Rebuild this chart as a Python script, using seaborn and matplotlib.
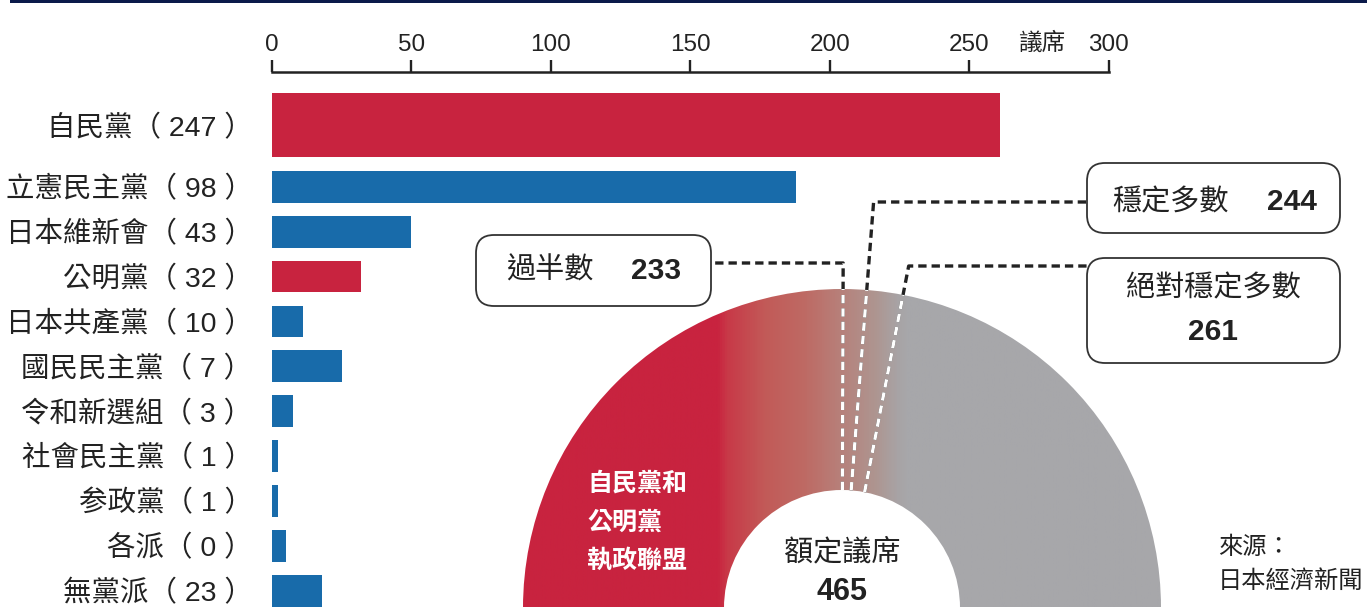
import numpy as np
import pandas as pd
import seaborn as sns
import matplotlib.pyplot as plt
from matplotlib.patches import Wedge, FancyBboxPatch, Rectangle
from matplotlib.colors import LinearSegmentedColormap

# data
parties = ['自民黨', '立憲民主黨', '日本維新會', '公明黨', '日本共產黨', '國民民主黨',
           '令和新選組', '社會民主黨', '参政黨', '各派', '無黨派']
before = [247, 98, 43, 32, 10, 7, 3, 1, 1, 0, 23]
seats = [261, 188, 50, 32, 11, 25, 7.5, 2, 2, 5, 18]
ruling = ['自民黨', '公明黨']

total_seats = 465
thresholds = [233, 244, 261]

RED = '#C8233F'
BLUE = '#186BAA'
GRAY = '#A7A7AA'
INK = '#222222'

sns.set_style('white')
plt.rcParams['font.family'] = ['Liberation Sans', 'Noto Sans CJK TC']

W, H = 1367, 607
fig = plt.figure(figsize=(W / 100, H / 100), dpi=100)

df = pd.DataFrame({'party': parties, 'seats': seats})
df['label'] = [f'{p}（ {n} ）' for p, n in zip(parties, before)]
palette = {p: (RED if p in ruling else BLUE) for p in parties}

# bar chart
ax = fig.add_axes([272 / W, 0, 836.7 / W, 1 - 72 / H])
sns.barplot(data=df, x='seats', y='party', hue='party', palette=palette, orient='h',
            width=0.71, saturation=1, legend=False, linewidth=0, ax=ax)

# the first party gets a taller bar
big = min(ax.patches, key=lambda p: abs(p.get_y() + p.get_height() / 2))
big.set_y(-0.367 - 0.72)
big.set_height(1.42)

ax.set_yticks([-0.367] + list(range(1, len(parties))), df['label'])
ax.set_ylim(10.36, -1.556)
ax.set_xlim(0, 300)
ax.set_xticks(range(0, 301, 50))
ax.xaxis.tick_top()
ax.set_xlabel('')
ax.set_ylabel('')
ax.tick_params(axis='x', direction='out', length=8.6, width=1.7, color=INK,
               labelcolor=INK, labelsize=17.5, pad=3)
ax.tick_params(axis='y', length=0, labelsize=20.5, pad=14, labelcolor=INK)
for side in ['left', 'right', 'bottom']:
    ax.spines[side].set_visible(False)
ax.spines['top'].set_color(INK)
ax.spines['top'].set_linewidth(1.8)

# overlay in pixel units
ov = fig.add_axes([0, 0, 1, 1], facecolor='none')
ov.axis('off')
ov.add_patch(Rectangle((10, H - 3), W - 10, 3, color='#0B1A4A', lw=0))
ov.text(1042, 563, '議席', fontsize=17, color=INK, ha='center', va='center')

# half donut with gradient
cx, cy, r_out, r_in = 842, -1, 319, 118
ring = Wedge((cx, cy), r_out, 0, 180, width=r_out - r_in, facecolor='none', edgecolor='none')
ov.add_patch(ring)
stops_x = [cx - r_out, 717, 728, 765, 805, 840, 875, 898, 908, cx + r_out]
stops_c = [RED, RED, '#C83A48', '#C25A58', '#BE6A64', '#B7807A', '#AE9590', '#A8A3A5', GRAY, GRAY]
pos = [(x - stops_x[0]) / (stops_x[-1] - stops_x[0]) for x in stops_x]
cmap = LinearSegmentedColormap.from_list('coal', list(zip(pos, stops_c)))
im = ov.imshow(np.linspace(0, 1, 800)[None, :], cmap=cmap, aspect='auto',
               extent=(cx - r_out, cx + r_out, cy, cy + r_out), origin='lower')
im.set_clip_path(ring)

# threshold leader lines and boxes
corner_y = [344, 405, 341]
end_x = [711, 1087, 1087]
dash = (0, (2.5, 1.5))
for seat, yc, xe in zip(thresholds, corner_y, end_x):
    th = np.deg2rad(180 - 180 * seat / total_seats)
    r_top = (yc - cy) / np.sin(th)
    x0, y0 = cx + r_in * np.cos(th), cy + r_in * np.sin(th)
    x1, y1 = cx + r_top * np.cos(th), yc
    ov.plot([x0, x1, xe], [y0, y1, yc], color=INK, lw=2.4, ls=dash,
            solid_joinstyle='round', dash_joinstyle='round')
    x2, y2 = cx + r_out * np.cos(th), cy + r_out * np.sin(th)
    ov.plot([x0, x2], [y0, y2], color='white', lw=2.4, ls=dash)

box_kw = dict(boxstyle='round,pad=0,rounding_size=18', facecolor='white',
              edgecolor='#333333', lw=1.3)
ov.add_patch(FancyBboxPatch((476, 301), 235, 71, **box_kw))
ov.add_patch(FancyBboxPatch((1087, 374), 253, 70, **box_kw))
ov.add_patch(FancyBboxPatch((1087, 244), 253, 105, **box_kw))

ov.text(506, 336, '過半數', fontsize=21, color=INK, ha='left', va='center')
ov.text(681, 336, str(thresholds[0]), fontsize=21.5, fontweight='bold', color=INK,
        ha='right', va='center')
ov.text(1112, 405, '穩定多數', fontsize=21, color=INK, ha='left', va='center')
ov.text(1317, 405, str(thresholds[1]), fontsize=21.5, fontweight='bold', color=INK,
        ha='right', va='center')
ov.text(1213, 319, '絕對穩定多數', fontsize=21, color=INK, ha='center', va='center')
ov.text(1213, 275, str(thresholds[2]), fontsize=21.5, fontweight='bold', color=INK,
        ha='center', va='center')

for txt, y in zip(['自民黨和', '公明黨', '執政聯盟'], [123, 84, 47]):
    ov.text(587, y, txt, fontsize=18, fontweight='bold', color='white', ha='left', va='center')
ov.text(cx, 55, '額定議席', fontsize=21, color=INK, ha='center', va='center')
ov.text(cx, 15, str(total_seats), fontsize=22, fontweight='bold', color=INK,
        ha='center', va='center')

ov.text(1218, 59, '來源：', fontsize=17.5, color=INK, ha='left', va='center')
ov.text(1218, 25, '日本經濟新聞', fontsize=17.5, color=INK, ha='left', va='center')

ov.set_xlim(0, W)
ov.set_ylim(0, H)

fig.savefig('out.png', dpi=100)
